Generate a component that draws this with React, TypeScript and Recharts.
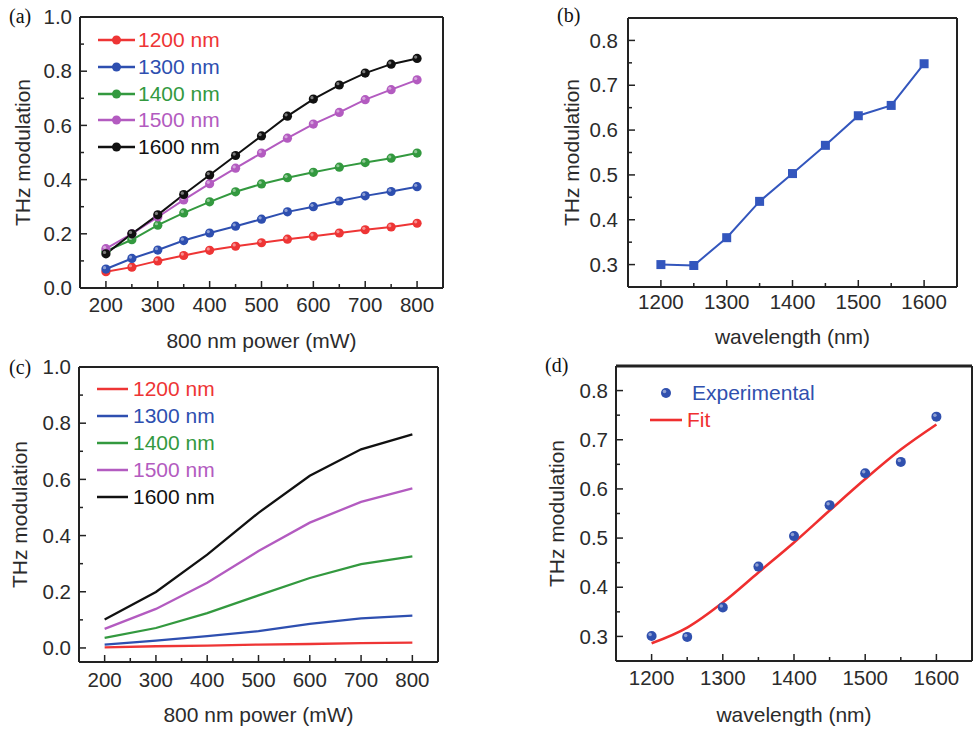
import { LineChart, Line, ComposedChart, XAxis, YAxis, ReferenceLine } from 'recharts'

// panel (a): modulation vs 800 nm pump power, measured
const powerA = [200, 250, 300, 350, 400, 450, 500, 550, 600, 650, 700, 750, 800]
const a1200 = [0.06, 0.077, 0.1, 0.12, 0.139, 0.154, 0.167, 0.18, 0.191, 0.203, 0.215, 0.225, 0.239]
const a1300 = [0.07, 0.109, 0.14, 0.175, 0.203, 0.228, 0.254, 0.281, 0.3, 0.321, 0.34, 0.356, 0.374]
const a1400 = [0.136, 0.178, 0.232, 0.277, 0.318, 0.355, 0.384, 0.407, 0.427, 0.446, 0.463, 0.479, 0.498]
const a1500 = [0.145, 0.2, 0.262, 0.325, 0.385, 0.442, 0.498, 0.553, 0.605, 0.648, 0.695, 0.732, 0.768]
const a1600 = [0.126, 0.2, 0.27, 0.345, 0.417, 0.489, 0.561, 0.634, 0.697, 0.749, 0.793, 0.826, 0.847]

// panel (c): simulated
const powerC = [200, 300, 400, 500, 600, 700, 800]
const c1200 = [0.002, 0.006, 0.008, 0.012, 0.014, 0.017, 0.019]
const c1300 = [0.012, 0.026, 0.042, 0.06, 0.086, 0.105, 0.115]
const c1400 = [0.036, 0.071, 0.124, 0.187, 0.249, 0.298, 0.326]
const c1500 = [0.068, 0.139, 0.232, 0.345, 0.446, 0.52, 0.568]
const c1600 = [0.101, 0.199, 0.332, 0.481, 0.613, 0.707, 0.76]

// panels (b) and (d): modulation vs wavelength
const wavelength = [1200, 1250, 1300, 1350, 1400, 1450, 1500, 1550, 1600]
const bMod = [0.3, 0.298, 0.36, 0.441, 0.503, 0.566, 0.632, 0.655, 0.748]
const dExp = [0.301, 0.299, 0.359, 0.442, 0.504, 0.567, 0.632, 0.655, 0.747]
const dFit = [0.286, 0.318, 0.369, 0.43, 0.491, 0.556, 0.62, 0.68, 0.731]

const seriesNames = ['1200 nm', '1300 nm', '1400 nm', '1500 nm', '1600 nm']
const seriesKeys = ['s1200', 's1300', 's1400', 's1500', 's1600']
const seriesColors = ['#ee3535', '#2e4fb0', '#33993f', '#b35bc0', '#111111']

const powerTicks = [200, 250, 300, 350, 400, 450, 500, 550, 600, 650, 700, 750, 800]
const powerMajors = [200, 300, 400, 500, 600, 700, 800]
const modTicks = [0, 0.1, 0.2, 0.3, 0.4, 0.5, 0.6, 0.7, 0.8, 0.9, 1.0]
const modMajors = [0, 0.2, 0.4, 0.6, 0.8, 1.0]
const wlTicks = [1200, 1250, 1300, 1350, 1400, 1450, 1500, 1550, 1600]
const wlMajors = [1200, 1300, 1400, 1500, 1600]
const wlModTicks = [0.3, 0.35, 0.4, 0.45, 0.5, 0.55, 0.6, 0.65, 0.7, 0.75, 0.8]
const wlModMajors = [0.3, 0.4, 0.5, 0.6, 0.7, 0.8]

const buildTable = (xs: number[], cols: number[][]) =>
  xs.map((x, i) => {
    const row: any = { x }
    seriesKeys.forEach((k, j) => (row[k] = cols[j][i]))
    return row
  })

const tableA = buildTable(powerA, [a1200, a1300, a1400, a1500, a1600])
const tableC = buildTable(powerC, [c1200, c1300, c1400, c1500, c1600])
const tableB = wavelength.map((w, i) => ({ x: w, mod: bMod[i] }))
const tableD = wavelength.map((w, i) => ({ x: w, exp: dExp[i], fit: dFit[i] }))

const FONT = '"Liberation Sans", Arial, sans-serif'
const INK = '#2b2b2b'
const AXIS = '#222'
const TICK_FS = 20.5
const axisLine = { stroke: AXIS, strokeWidth: 2 }

const isMajor = (v: number, majors: number[]) => majors.some((m) => Math.abs(m - v) < 1e-6)

const xTick = (majors: number[], margin: number, digits: number) => (p: any) => {
  const v = p.payload.value
  const major = isMajor(v, majors)
  const axisY = p.y - margin
  return (
    <g key={`xt-${v}`}>
      <line x1={p.x} x2={p.x} y1={axisY} y2={axisY - (major ? 7 : 4)} stroke={AXIS} strokeWidth={1.5} />
      {major && (
        <text x={p.x} y={p.y} dy="0.35em" textAnchor="middle" fontSize={TICK_FS} fontFamily={FONT} fill={INK}>
          {v.toFixed(digits)}
        </text>
      )}
    </g>
  )
}

const yTick = (majors: number[], margin: number) => (p: any) => {
  const v = p.payload.value
  const major = isMajor(v, majors)
  const axisX = p.x + margin
  return (
    <g key={`yt-${v}`}>
      <line x1={axisX} x2={axisX + (major ? 7 : 4)} y1={p.y} y2={p.y} stroke={AXIS} strokeWidth={1.5} />
      {major && (
        <text x={p.x} y={p.y} dy="0.35em" textAnchor="end" fontSize={TICK_FS} fontFamily={FONT} fill={INK}>
          {v.toFixed(1)}
        </text>
      )}
    </g>
  )
}

const xTitle = (text: string, dy: number) => (props: any) => {
  const vb = props.viewBox || { x: 0, y: 0, width: 0, height: 0 }
  return (
    <text x={vb.x + vb.width / 2} y={vb.y + dy} dy="0.35em" textAnchor="middle" fontSize={21} fontFamily={FONT} fill={INK}>
      {text}
    </text>
  )
}

const yTitle = (text: string, dx: number) => (props: any) => {
  const vb = props.viewBox || { x: 0, y: 0, width: 0, height: 0 }
  const x = vb.x + dx
  const y = vb.y + vb.height / 2
  return (
    <text x={x} y={y} dy="0.35em" textAnchor="middle" transform={`rotate(-90 ${x} ${y})`} fontSize={21} fontFamily={FONT} fill={INK}>
      {text}
    </text>
  )
}

const ball = (color: string, r: number) => (p: any) => (
  <g key={`b-${p.dataKey}-${p.index}`}>
    <circle cx={p.cx} cy={p.cy} r={r} fill={color} />
    <circle cx={p.cx - r * 0.3} cy={p.cy - r * 0.3} r={r * 0.35} fill="#fff" opacity={0.45} />
  </g>
)

const square = (color: string) => (p: any) => (
  <rect key={`sq-${p.index}`} x={p.cx - 4.5} y={p.cy - 4.5} width={9} height={9} fill={color} />
)

const PanelLabel = ({ text, left, top }: { text: string; left: number; top: number }) => (
  <div style={{ position: 'absolute', left, top, fontFamily: '"Liberation Serif", serif', fontSize: 20, color: '#111', lineHeight: '20px' }}>
    {text}
  </div>
)

const SeriesLegend = ({ left, top, rowH, lineW, gap, withDot }: any) => (
  <div style={{ position: 'absolute', left, top, fontFamily: FONT, fontSize: 21 }}>
    {seriesNames.map((n, i) => (
      <div key={n} style={{ display: 'flex', alignItems: 'center', height: rowH }}>
        <svg width={lineW} height={12} style={{ marginRight: gap }}>
          <line x1={0} x2={lineW} y1={6} y2={6} stroke={seriesColors[i]} strokeWidth={2.5} />
          {withDot && <circle cx={lineW / 2} cy={6} r={4.5} fill={seriesColors[i]} />}
        </svg>
        <span style={{ color: seriesColors[i] }}>{n}</span>
      </div>
    ))}
  </div>
)

const BLUE_B = '#3356bd'
const BLUE_D = '#3050ae'
const RED_FIT = '#ef2f2f'

export default function App() {
  return (
    <div style={{ position: 'fixed', left: 0, top: 0, width: 975, height: 730, background: '#fff', overflow: 'hidden' }}>
      {/* (a) */}
      <div style={{ position: 'absolute', left: 0, top: 0 }}>
        <LineChart width={460} height={360} data={tableA} margin={{ top: 17, right: 17, bottom: 0, left: 0 }}>
          <XAxis dataKey="x" type="number" domain={[150, 850]} ticks={powerTicks} interval={0} height={72}
            tickSize={0} tickMargin={17} tickLine={false} tick={xTick(powerMajors, 17, 0)} axisLine={axisLine}
            label={xTitle('800 nm power (mW)', 53)} />
          <YAxis type="number" domain={[0, 1]} ticks={modTicks} interval={0} width={80}
            tickSize={0} tickMargin={8} tickLine={false} tick={yTick(modMajors, 8)} axisLine={axisLine}
            label={yTitle('THz modulation', 23)} />
          <ReferenceLine x={850} stroke={AXIS} strokeWidth={2} />
          <ReferenceLine y={1} stroke={AXIS} strokeWidth={2} />
          {seriesKeys.map((k, i) => (
            <Line key={k} dataKey={k} name={seriesNames[i]} stroke={seriesColors[i]} strokeWidth={2}
              dot={ball(seriesColors[i], 4.6)} activeDot={false} isAnimationActive={false} />
          ))}
        </LineChart>
        <SeriesLegend left={98} top={27} rowH={26.7} lineW={37} gap={3} withDot />
        <PanelLabel text="(a)" left={9} top={6} />
      </div>

      {/* (b) */}
      <div style={{ position: 'absolute', left: 480, top: 0 }}>
        <LineChart width={495} height={360} data={tableB} margin={{ top: 18, right: 18, bottom: 0, left: 0 }}>
          <XAxis dataKey="x" type="number" domain={[1150, 1650]} ticks={wlTicks} interval={0} height={73}
            tickSize={0} tickMargin={15} tickLine={false} tick={xTick(wlMajors, 15, 0)} axisLine={axisLine}
            label={xTitle('wavelength (nm)', 50)} />
          <YAxis type="number" domain={[0.25, 0.85]} ticks={wlModTicks} interval={0} width={148}
            tickSize={0} tickMargin={10} tickLine={false} tick={yTick(wlModMajors, 10)} axisLine={axisLine}
            label={yTitle('THz modulation', 92)} />
          <ReferenceLine x={1650} stroke={AXIS} strokeWidth={2} />
          <ReferenceLine y={0.85} stroke={AXIS} strokeWidth={2} />
          <Line dataKey="mod" stroke={BLUE_B} strokeWidth={2} dot={square(BLUE_B)} activeDot={false} isAnimationActive={false} />
        </LineChart>
        <PanelLabel text="(b)" left={77} top={5} />
      </div>

      {/* (c) */}
      <div style={{ position: 'absolute', left: 0, top: 352 }}>
        <LineChart width={460} height={378} data={tableC} margin={{ top: 15, right: 22, bottom: 0, left: 0 }}>
          <XAxis dataKey="x" type="number" domain={[150, 850]} ticks={powerTicks} interval={0} height={68}
            tickSize={0} tickMargin={18} tickLine={false} tick={xTick(powerMajors, 18, 0)} axisLine={axisLine}
            label={xTitle('800 nm power (mW)', 53)} />
          <YAxis type="number" domain={[-0.05, 1]} ticks={modTicks} interval={0} width={79}
            tickSize={0} tickMargin={8} tickLine={false} tick={yTick(modMajors, 8)} axisLine={axisLine}
            label={yTitle('THz modulation', 20)} />
          <ReferenceLine x={850} stroke={AXIS} strokeWidth={2} />
          <ReferenceLine y={1} stroke={AXIS} strokeWidth={2} />
          {seriesKeys.map((k, i) => (
            <Line key={k} dataKey={k} name={seriesNames[i]} stroke={seriesColors[i]} strokeWidth={2.3}
              dot={false} activeDot={false} isAnimationActive={false} />
          ))}
        </LineChart>
        <SeriesLegend left={97} top={23.5} rowH={27} lineW={31} gap={5} withDot={false} />
        <PanelLabel text="(c)" left={9} top={5} />
      </div>

      {/* (d) */}
      <div style={{ position: 'absolute', left: 480, top: 352 }}>
        <ComposedChart width={495} height={378} data={tableD} margin={{ top: 14, right: 3, bottom: 0, left: 0 }}>
          <XAxis dataKey="x" type="number" domain={[1150, 1650]} ticks={wlTicks} interval={0} height={69}
            tickSize={0} tickMargin={17} tickLine={false} tick={xTick(wlMajors, 17, 0)} axisLine={axisLine}
            label={xTitle('wavelength (nm)', 54)} />
          <YAxis type="number" domain={[0.25, 0.85]} ticks={wlModTicks} interval={0} width={136}
            tickSize={0} tickMargin={8} tickLine={false} tick={yTick(wlModMajors, 8)} axisLine={axisLine}
            label={yTitle('THz modulation', 77)} />
          <ReferenceLine x={1650} stroke={AXIS} strokeWidth={2} />
          <ReferenceLine y={0.85} stroke={AXIS} strokeWidth={3} />
          <Line dataKey="fit" type="monotone" stroke={RED_FIT} strokeWidth={2.6} dot={false} activeDot={false} isAnimationActive={false} />
          <Line dataKey="exp" stroke="none" dot={ball(BLUE_D, 5)} activeDot={false} isAnimationActive={false} />
        </ComposedChart>
        <div style={{ position: 'absolute', left: 176, top: 27, fontFamily: FONT, fontSize: 21 }}>
          <div style={{ display: 'flex', alignItems: 'center', height: 27.3 }}>
            <svg width={32} height={12} style={{ marginRight: 4 }}>
              <circle cx={10} cy={6} r={5} fill={BLUE_D} />
              <circle cx={8.5} cy={4.5} r={1.8} fill="#fff" opacity={0.45} />
            </svg>
            <span style={{ color: BLUE_D }}>Experimental</span>
          </div>
          <div style={{ display: 'flex', alignItems: 'center', height: 27.3, marginLeft: -6 }}>
            <svg width={32} height={12} style={{ marginRight: 5 }}>
              <line x1={0} x2={32} y1={6} y2={6} stroke={RED_FIT} strokeWidth={2.6} />
            </svg>
            <span style={{ color: RED_FIT }}>Fit</span>
          </div>
        </div>
        <PanelLabel text="(d)" left={65} top={3} />
      </div>
    </div>
  )
}
